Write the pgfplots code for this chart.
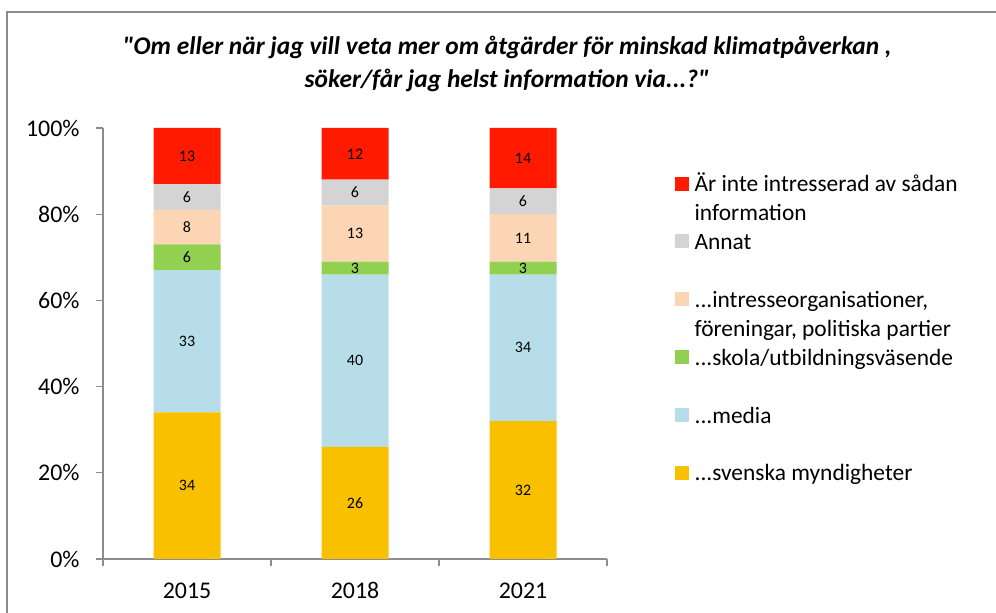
\documentclass[border=0pt]{standalone}
\usepackage{pgfplots}
\pgfplotsset{compat=1.18}
\usepackage{pgfplotstable}
\usepackage{fontspec}
\setmainfont{Carlito}
\newfontfamily\plainfont{Carlito}[Ligatures=TeXOff]
\definecolor{cRed}{HTML}{FF1A00}
\definecolor{cGray}{HTML}{D4D4D4}
\definecolor{cPeach}{HTML}{FCD5B5}
\definecolor{cGreen}{HTML}{92D050}
\definecolor{cBlue}{HTML}{B7DEE8}
\definecolor{cGold}{HTML}{F9C000}
\definecolor{axGray}{HTML}{8C8C8C}
\pgfplotstableread{
x myn media skola intr annat ej
0 34 33 6 8 6 13
1 26 40 3 13 6 12
2 32 34 3 11 6 14
}\data
\pgfplotstableread{
x y lab
0 17 34
0 50.5 33
0 70 6
0 77 8
0 84 6
0 93.5 13
1 13 26
1 46 40
1 67.5 3
1 75.5 13
1 85 6
1 94 12
2 16 32
2 49 34
2 67.5 3
2 74.5 11
2 83 6
2 93 14
}\labels
\pgfplotsset{base/.style={
  at={(103bp,54bp)}, anchor=south west, scale only axis,
  width=504bp, height=431bp,
  xmin=-0.5, xmax=2.5, ymin=0, ymax=100,
}}
\newcommand{\sq}[1]{\addlegendimage{legend image code/.code={\fill[#1] (0bp,0.5bp) rectangle (13bp,13.5bp);}}}
\begin{document}
\begin{tikzpicture}
\useasboundingbox (0,0) rectangle (996bp,613bp);
\draw[axGray, line width=1.5bp] (7bp,-5bp) -- (7bp,601bp) -- (1005bp,601bp);
\node[font=\fontsize{25.5}{30}\selectfont\plainfont\bfseries\itshape] at (507bp,566bp) {"Om eller när jag vill veta mer om åtgärder för minskad klimatpåverkan ,};
\node[font=\fontsize{25.5}{30}\selectfont\plainfont\bfseries\itshape] at (507bp,533bp) {söker/får jag helst information via...?"};
\begin{axis}[base, ybar stacked, bar width=67bp,
  axis x line*=bottom, axis y line*=left,
  axis line style={axGray, line width=1.2bp, -},
  tick style={axGray, line width=1.2bp},
  tick align=outside, major tick length=7bp,
  xtick={-0.5,0.5,1.5,2.5}, xticklabels={},
  extra x ticks={0,1,2}, extra x tick labels={2015,2018,2021},
  extra x tick style={major tick length=0pt, xticklabel style={yshift=-20bp}},
  ytick={0,20,40,60,80,100},
  yticklabel={\pgfmathprintnumber{\tick}\%},
  yticklabel style={xshift=-13bp},
  /pgf/number format/assume math mode=true,
  ticklabel style={font=\fontsize{24}{28}\selectfont, text=black},
  legend style={at={(1.129,0.894)}, anchor=north west, draw=none, fill=none,
    font=\fontsize{23.5}{28}\selectfont, column sep=6bp, row sep=0pt,
    nodes={inner sep=0pt, text height=16bp, text depth=12.9bp}},
  legend cell align=left,
]
\addplot[fill=cGold, draw=none, forget plot] table[x=x,y=myn]{\data};
\addplot[fill=cBlue, draw=none, forget plot] table[x=x,y=media]{\data};
\addplot[fill=cGreen, draw=none, forget plot] table[x=x,y=skola]{\data};
\addplot[fill=cPeach, draw=none, forget plot] table[x=x,y=intr]{\data};
\addplot[fill=cGray, draw=none, forget plot] table[x=x,y=annat]{\data};
\addplot[fill=cRed, draw=none, forget plot] table[x=x,y=ej]{\data};
\sq{cRed}\addlegendentry{Är inte intresserad av sådan}
\addlegendimage{empty legend}\addlegendentry{information}
\sq{cGray}\addlegendentry{Annat}
\addlegendimage{empty legend}\addlegendentry{}
\sq{cPeach}\addlegendentry{...intresseorganisationer,}
\addlegendimage{empty legend}\addlegendentry{föreningar, politiska partier}
\sq{cGreen}\addlegendentry{...skola/utbildningsväsende}
\addlegendimage{empty legend}\addlegendentry{}
\sq{cBlue}\addlegendentry{...media}
\addlegendimage{empty legend}\addlegendentry{}
\sq{cGold}\addlegendentry{...svenska myndigheter}
\end{axis}
\begin{axis}[base, hide axis]
\addplot[draw=none, mark=none, nodes near coords, point meta=explicit symbolic,
  nodes near coords style={font=\fontsize{16}{19}\selectfont, anchor=center, inner sep=0pt}]
  table[x=x,y=y,meta=lab]{\labels};
\end{axis}
\end{tikzpicture}
\end{document}
